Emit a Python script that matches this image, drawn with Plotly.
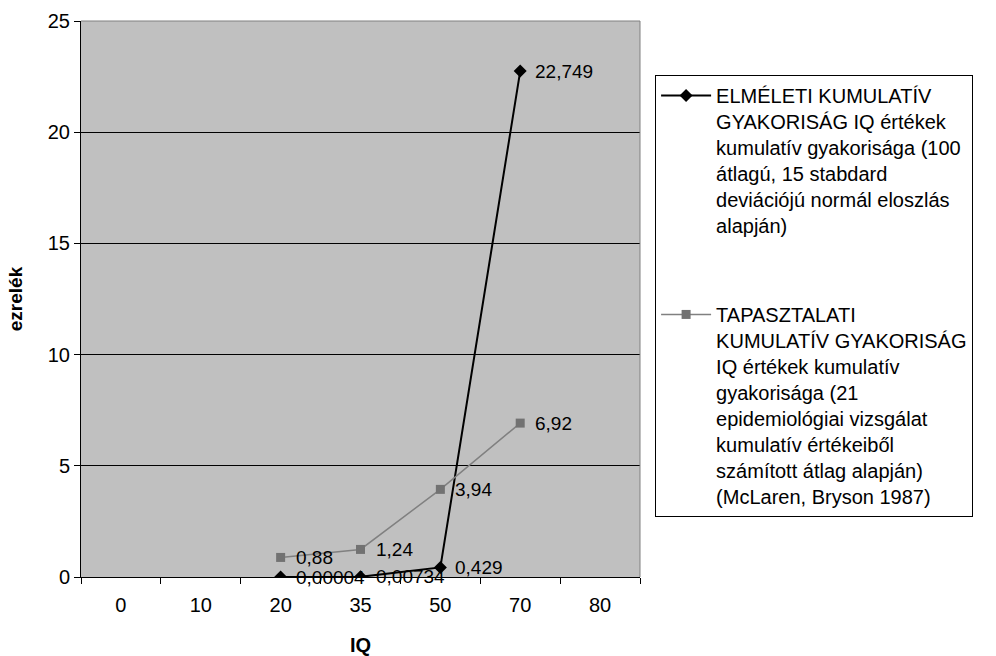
import numpy as np
import plotly.graph_objects as go

# IQ categories shown on the x axis
iq_categories = ["0", "10", "20", "35", "50", "70", "80"]

# Theoretical cumulative frequency (per mille), normal distribution mean 100, sd 15
theor_iq = ["20", "35", "50", "70"]
theor_vals = [0.00004, 0.00734, 0.429, 22.749]

# Empirical cumulative frequency (per mille), McLaren & Bryson 1987
emp_iq = ["20", "35", "50", "70"]
emp_vals = [0.88, 1.24, 3.94, 6.92]

theor_name = ("ELMÉLETI KUMULATÍV<br>GYAKORISÁG IQ értékek<br>kumulatív gyakorisága (100<br>"
              "átlagú, 15 stabdard<br>deviációjú normál eloszlás<br>alapján)")
emp_name = ("TAPASZTALATI<br>KUMULATÍV GYAKORISÁG<br>IQ értékek kumulatív<br>gyakorisága (21<br>"
            "epidemiológiai vizsgálat<br>kumulatív értékeiből<br>számított átlag alapján)<br>"
            "(McLaren, Bryson 1987)")

FONT = "Arial, Liberation Sans, sans-serif"


def hu_number(v):
    return np.format_float_positional(v, trim="-").replace(".", ",")


fig = go.Figure()

# invisible trace so that every IQ category is present on the axis
fig.add_trace(go.Scatter(x=iq_categories, y=[None] * len(iq_categories),
                         mode="markers", showlegend=False, hoverinfo="skip"))

fig.add_trace(go.Scatter(
    x=theor_iq, y=theor_vals, mode="lines+markers", name=theor_name,
    legendgroup="a",
    line=dict(color="#000000", width=2),
    marker=dict(symbol="diamond", size=10, color="#000000"),
))
fig.add_trace(go.Scatter(
    x=emp_iq, y=emp_vals, mode="lines+markers", name=emp_name,
    legendgroup="b",
    line=dict(color="#808080", width=1.5),
    marker=dict(symbol="square", size=9, color="#727272"),
))

# value labels to the right of each point (positioned by category index)
annotations = []
for xs, ys in ((theor_iq, theor_vals), (emp_iq, emp_vals)):
    for xv, yv in zip(xs, ys):
        annotations.append(dict(
            x=iq_categories.index(xv), y=yv, xref="x", yref="y", text=hu_number(yv),
            showarrow=False, xanchor="left", yanchor="middle", xshift=14,
            borderpad=0,
            font=dict(family=FONT, size=19, color="#000000"),
        ))

fig.update_layout(
    width=996, height=656,
    margin=dict(l=81, r=356, t=21, b=79),
    paper_bgcolor="#FFFFFF",
    plot_bgcolor="#C0C0C0",
    font=dict(family=FONT, size=20, color="#000000"),
    annotations=annotations,
    xaxis=dict(
        type="category", categoryorder="array", categoryarray=iq_categories,
        range=[-0.5, len(iq_categories) - 0.5], automargin=False,
        tickson="boundaries", ticks="outside", ticklen=6, tickcolor="#000000",
        showline=True, linecolor="#000000", linewidth=1,
        showgrid=False, ticklabelstandoff=10,
        tickfont=dict(family=FONT, size=20),
        title=dict(text="<b>IQ</b>", font=dict(family=FONT, size=20), standoff=25),
    ),
    yaxis=dict(
        range=[0, 25], dtick=5, tick0=0, automargin=False,
        ticks="outside", ticklen=6, tickcolor="#000000",
        showline=True, linecolor="#000000", linewidth=1,
        showgrid=True, gridcolor="#000000", gridwidth=1,
        zeroline=False,
        tickfont=dict(family=FONT, size=20),
        title=dict(text="<b>ezrelék</b>", font=dict(family=FONT, size=19), standoff=20),
    ),
    legend=dict(
        x=1.027, y=0.903, xanchor="left", yanchor="top",
        bgcolor="#FFFFFF", bordercolor="#000000", borderwidth=1,
        font=dict(family=FONT, size=20, color="#000000"),
        valign="top", traceorder="grouped", tracegroupgap=60,
        itemwidth=50,
    ),
    shapes=[
        dict(type="line", xref="paper", yref="paper", x0=0, x1=1, y0=1, y1=1,
             line=dict(color="#808080", width=1), layer="above"),
        dict(type="line", xref="paper", yref="paper", x0=1, x1=1, y0=0, y1=1,
             line=dict(color="#808080", width=1), layer="above"),
    ],
)

fig.write_html("out.html")
